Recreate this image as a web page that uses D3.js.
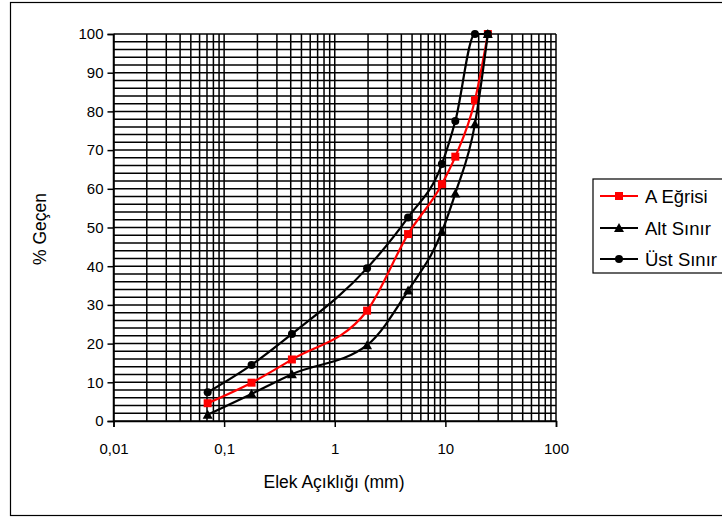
<!DOCTYPE html>
<html><head><meta charset="utf-8">
<script src="https://cdn.jsdelivr.net/npm/d3@7/dist/d3.min.js"></script>
<style>body{margin:0;background:#fff}svg{display:block;font-family:"Liberation Sans",Arial,sans-serif}</style>
</head><body>
<script>
const sieves = [0.071, 0.177, 0.41, 1.96, 4.6, 9.3, 12.3, 18.5, 24.2];
const aEgrisi = [4.6, 9.9, 15.9, 28.5, 48.3, 61.2, 68.3, 82.9, 100];
const altSinir = [1.6, 7.0, 12.1, 19.6, 33.7, 48.9, 58.8, 76.7, 100];
const ustSinir = [7.4, 14.5, 22.5, 39.5, 52.6, 66.4, 77.5, 100, 100];
const xTickLabels = ["0,01", "0,1", "1", "10", "100"];
const xTickValues = [0.01, 0.1, 1, 10, 100];
const yTickValues = [0,10,20,30,40,50,60,70,80,90,100];
const seriesNames = ["A Eğrisi", "Alt Sınır", "Üst Sınır"];

const W = 722, H = 520;
const svg = d3.select("body").append("svg").attr("width", W).attr("height", H);
svg.append("rect").attr("x",10.5).attr("y",2.5).attr("width",720).attr("height",513).attr("fill","#fff").attr("stroke","#000").attr("stroke-width",1.2);

const x = d3.scaleLog().domain([0.01,100]).range([113.5,556]);
const y = d3.scaleLinear().domain([0,100]).range([421,34]);

const g = svg.append("g");
const minor = [];
for (let e=-2; e<2; e++) for (let m=1; m<=9; m++) minor.push(m*Math.pow(10,e));
minor.push(100);
g.selectAll("line.vg").data(minor).join("line").attr("class","vg")
 .attr("x1",d=>x(d)).attr("x2",d=>x(d)).attr("y1",y(0)).attr("y2",y(100))
 .attr("stroke","#000").attr("stroke-width",1.5);
const hvals = d3.range(0,101,2);
g.selectAll("line.hg").data(hvals).join("line").attr("class","hg")
 .attr("x1",x(0.01)).attr("x2",x(100)).attr("y1",d=>y(d)).attr("y2",d=>y(d))
 .attr("stroke","#000").attr("stroke-width",1.5);

const xAxis = d3.axisBottom(x).tickValues(xTickValues).tickFormat((d,i)=>xTickLabels[i]).tickSize(6).tickPadding(16);
const yAxis = d3.axisLeft(y).tickValues(yTickValues).tickSize(6).tickPadding(4);
const ax = svg.append("g").attr("transform",`translate(0,${y(0)})`).call(xAxis);
const ay = svg.append("g").attr("transform",`translate(${x(0.01)},0)`).call(yAxis);
[ax,ay].forEach(a=>{
  a.selectAll("path,line").attr("stroke","#000").attr("stroke-width",1.5);
  a.selectAll("text").attr("font-size",15).attr("fill","#000").attr("font-family","Liberation Sans, Arial, sans-serif");
});

svg.append("text").attr("x",334).attr("y",488).attr("text-anchor","middle").attr("font-size",17.5).text("Elek Açıklığı (mm)");
svg.append("text").attr("transform","translate(46,229) rotate(-90)").attr("text-anchor","middle").attr("font-size",17.5).text("% Geçen");

const line = d3.line().x(d=>x(d[0])).y(d=>y(d[1])).curve(d3.curveMonotoneX);
const series = [
  {name: seriesNames[0], vals: aEgrisi, color:"#ff0000", sym:"square"},
  {name: seriesNames[1], vals: altSinir, color:"#000", sym:"triangle"},
  {name: seriesNames[2], vals: ustSinir, color:"#000", sym:"circle"}
];
function marker(sel, sym, color){
  if (sym==="square") sel.append("rect").attr("x",-4).attr("y",-4).attr("width",8).attr("height",8).attr("fill",color);
  else if (sym==="triangle") sel.append("path").attr("d","M0,-5L5,4L-5,4Z").attr("fill",color);
  else sel.append("circle").attr("r",4).attr("fill",color);
}
series.forEach(s=>{
  const pts = sieves.map((v,i)=>[v,s.vals[i]]);
  svg.append("path").attr("d",line(pts)).attr("fill","none").attr("stroke",s.color).attr("stroke-width",2.2);
  pts.forEach(p=>{
    const m = svg.append("g").attr("transform",`translate(${x(p[0])},${y(p[1])})`);
    marker(m, s.sym, s.color);
  });
});

const lg = svg.append("g");
lg.append("rect").attr("x",593).attr("y",179).attr("width",140).attr("height",94).attr("fill","#fff").attr("stroke","#000").attr("stroke-width",1.2);
const ly = [196, 228, 259];
series.forEach((s,i)=>{
  lg.append("line").attr("x1",600).attr("x2",638).attr("y1",ly[i]).attr("y2",ly[i]).attr("stroke",s.color).attr("stroke-width",2.2);
  const m = lg.append("g").attr("transform",`translate(619,${ly[i]})`);
  marker(m, s.sym, s.color);
  lg.append("text").attr("x",645).attr("y",ly[i]+6.5).attr("font-size",18.5).text(s.name);
});
</script>
</body></html>
